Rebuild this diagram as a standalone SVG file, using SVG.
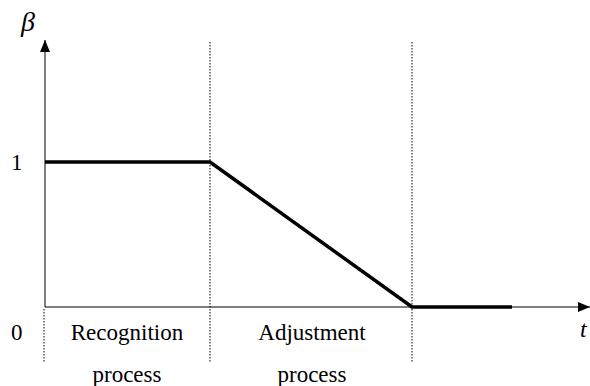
<svg xmlns="http://www.w3.org/2000/svg" width="590" height="386" viewBox="0 0 590 386">
<style>
.i{font-style:italic}
.dot{stroke:#000;stroke-width:1;stroke-dasharray:1.5 1.5;fill:none}
.ax{stroke:#000;stroke-width:1;fill:none}
.curve{stroke:#000;stroke-width:3.5;fill:none;stroke-linejoin:miter}
</style>
<defs>
<marker id="ah" viewBox="0 0 12 10" refX="12" refY="5" markerWidth="12" markerHeight="10" markerUnits="userSpaceOnUse" orient="auto">
<path d="M0,0 L12,5 L0,10 Z" fill="#000"/>
</marker>
</defs>
<g id="axes">
<line class="ax" x1="45" y1="307" x2="45" y2="40" marker-end="url(#ah)"/>
<line class="ax" x1="45" y1="307" x2="590" y2="307" marker-end="url(#ah)"/>
</g>
<g id="dividers">
<line class="dot" x1="44" y1="309" x2="44" y2="363"/>
<line class="dot" x1="210" y1="42" x2="210" y2="363"/>
<line class="dot" x1="412" y1="42" x2="412" y2="363"/>
</g>
<g id="curve">
<polyline class="curve" points="45,162 210,162 412,307 512,307"/>
</g>
<g id="labels" font-family="Liberation Serif, Times New Roman, DejaVu Serif, serif" font-size="23" fill="#000">
<text class="i" x="21" y="31" font-size="28">β</text>
<text x="11" y="170">1</text>
<text x="11" y="340">0</text>
<text x="127" y="340" text-anchor="middle">Recognition</text>
<text x="127" y="382" text-anchor="middle">process</text>
<text x="312" y="340" text-anchor="middle">Adjustment</text>
<text x="312" y="382" text-anchor="middle">process</text>
<text class="i" x="580" y="337" font-size="24">t</text>
</g>
</svg>
